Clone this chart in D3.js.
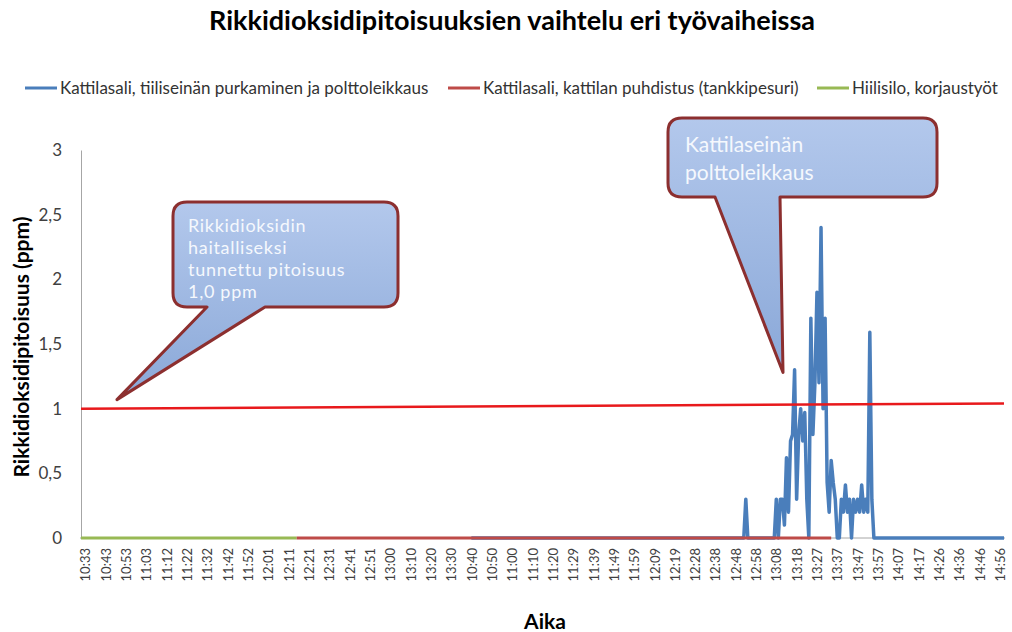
<!DOCTYPE html>
<html>
<head>
<meta charset="utf-8">
<script src="https://cdn.jsdelivr.net/npm/d3@7/dist/d3.min.js"></script>
<style>
  html, body { margin: 0; padding: 0; background: #fff; }
  svg { display: block; font-family: Lato, "Open Sans", sans-serif; }
</style>
</head>
<body>
<svg id="chart" width="1012" height="632"></svg>
<script>
// ---------- data ----------
const title = "Rikkidioksidipitoisuuksien vaihtelu eri työvaiheissa";
const yTitle = "Rikkidioksidipitoisuus (ppm)";
const xTitle = "Aika";

const seriesNames = [
  "Kattilasali, tiiliseinän purkaminen ja polttoleikkaus",
  "Kattilasali, kattilan puhdistus (tankkipesuri)",
  "Hiilisilo, korjaustyöt"
];
const seriesColors = ["#4a7ebb", "#be4b48", "#98b954"];

// category labels (shown every 10th sample)
const xTickLabels = [
  "10:33","10:43","10:53","11:03","11:12","11:22","11:32","11:42","11:52","12:01",
  "12:11","12:21","12:31","12:41","12:51","13:00","13:10","13:20","13:30","10:40",
  "10:50","11:00","11:10","11:20","11:29","11:39","11:49","11:59","12:09","12:19",
  "12:28","12:38","12:48","12:58","13:08","13:18","13:27","13:37","13:47","13:57",
  "14:07","14:17","14:26","14:36","14:46","14:56"
];
const sampleCount = 455;      // samples 0..454
const labelOffset = 2;        // first labelled sample
const labelStep = 10;         // label every 10th sample

const yTicks = [0, 0.5, 1, 1.5, 2, 2.5, 3];

// blue: Kattilasali, tiiliseinän purkaminen ja polttoleikkaus
const blueSample = [192, 326, 327, 328, 340, 341, 342, 343, 344, 345, 346, 347, 348, 349, 350,
  351, 352, 353, 354, 355, 356, 357, 358, 359, 360, 361, 362, 363, 364, 365, 366, 367, 368,
  369, 370, 371, 372, 373, 374, 375, 376, 377, 378, 379, 380, 381, 382, 383, 384, 385, 386,
  387, 388, 389, 390, 454];
const blueValue = [0, 0, 0.3, 0, 0, 0, 0.3, 0, 0.3, 0.3, 0.1, 0.62, 0.2, 0.75, 0.8,
  1.3, 0.3, 0.8, 1.0, 0.75, 0.97, 0.3, 0, 1.7, 0.8, 1.2, 1.9, 1.2, 2.4, 1.0, 1.7, 0.43, 0.2,
  0.6, 0.43, 0.3, 0, 0, 0.3, 0.2, 0.41, 0.2, 0.3, 0, 0.3, 0.2, 0.3, 0.2, 0.41, 0.2, 0.3,
  0.2, 1.59, 0.3, 0, 0];

// red: Kattilasali, kattilan puhdistus (tankkipesuri)
const redSample = [106, 369];
const redValue = [0, 0];

// green: Hiilisilo, korjaustyöt
const greenSample = [0, 106];
const greenValue = [0, 0];

// threshold line (1,0 ppm), drawn across the chart
const thresholdSample = [0, 454];
const thresholdValue = [1.0, 1.04];

// callouts
const callout1Lines = ["Rikkidioksidin", "haitalliseksi", "tunnettu pitoisuus", "1,0 ppm"];
const callout1Tip = [17.7, 1.07];
const callout2Lines = ["Kattilaseinän", "polttoleikkaus"];
const callout2Tip = [345.3, 1.28];

// ---------- layout ----------
const svg = d3.select("#chart");
const plot = { left: 81, right: 1004, top: 150, bottom: 538 };

const x = d3.scaleLinear().domain([0, sampleCount - 1]).range([plot.left, plot.right]);
const y = d3.scaleLinear().domain([0, 3]).range([plot.bottom, plot.top]);

const defs = svg.append("defs");
const grad = defs.append("linearGradient").attr("id", "calloutFill")
  .attr("x1", 0).attr("y1", 0).attr("x2", 0).attr("y2", 1);
grad.append("stop").attr("offset", "0%").attr("stop-color", "#b3c8ec");
grad.append("stop").attr("offset", "100%").attr("stop-color", "#8aa8d8");

// title
svg.append("text").attr("x", 512).attr("y", 30).attr("text-anchor", "middle")
  .attr("font-size", 27).attr("font-weight", "bold").attr("fill", "#000").text(title);

// legend
const legendX = [25, 448, 817];
seriesNames.forEach((n, i) => {
  const g = svg.append("g").attr("transform", `translate(${legendX[i]},88)`);
  g.append("line").attr("x1", 0).attr("x2", 32).attr("y1", 0).attr("y2", 0)
    .attr("stroke", seriesColors[i]).attr("stroke-width", 3);
  g.append("text").attr("x", 35).attr("y", 6).attr("font-size", 17).attr("fill", "#333").text(n);
});

// axes
const tickPositions = xTickLabels.map((d, i) => labelOffset + i * labelStep);
const xAxis = d3.axisBottom(x).tickValues(tickPositions)
  .tickFormat((d, i) => xTickLabels[i]).tickSize(0).tickPadding(0);
const gx = svg.append("g").attr("transform", `translate(0,${plot.bottom})`).call(xAxis);
gx.select(".domain").attr("stroke", "#a6a6a6").attr("d", `M${plot.left - 1},0H${plot.right + 1}`);
gx.selectAll(".tick text")
  .attr("transform", "rotate(-90)")
  .attr("text-anchor", "end")
  .attr("x", -10).attr("y", 0).attr("dy", "0.36em")
  .attr("font-size", 13).attr("font-family", "Lato, sans-serif").attr("fill", "#404040");

const yAxis = d3.axisLeft(y).tickValues(yTicks)
  .tickFormat(d => String(d).replace(".", ",")).tickSize(0).tickPadding(19);
const gy = svg.append("g").attr("transform", `translate(${plot.left},0)`).call(yAxis);
gy.select(".domain").attr("stroke", "#a6a6a6");
gy.selectAll(".tick text").attr("font-size", 17).attr("font-family", "Lato, sans-serif").attr("fill", "#404040");

// axis titles
svg.append("text").attr("transform", `translate(29,347) rotate(-90)`).attr("text-anchor", "middle")
  .attr("font-size", 21).attr("font-weight", "bold").attr("fill", "#000").text(yTitle);
svg.append("text").attr("x", 545).attr("y", 629).attr("text-anchor", "middle")
  .attr("font-size", 21).attr("font-weight", "bold").attr("fill", "#000").text(xTitle);

// series
const line = d3.line().x(d => x(d[0])).y(d => y(d[1]));
const seriesData = [
  d3.zip(blueSample, blueValue),
  d3.zip(redSample, redValue),
  d3.zip(greenSample, greenValue)
];
seriesData.forEach((data, i) => {
  svg.append("path").datum(data).attr("d", line).attr("fill", "none")
    .attr("stroke", seriesColors[i]).attr("stroke-width", i === 0 ? 3.5 : 3)
    .attr("stroke-linejoin", "round");
});

// threshold
svg.append("path").datum(d3.zip(thresholdSample, thresholdValue)).attr("d", line)
  .attr("fill", "none").attr("stroke", "#e8191c").attr("stroke-width", 2.5);

// callouts
function callout(box, tailA, tailB, tip, lines, textX, firstBase, lineStep, fontSize, spacing) {
  const [x0, y0, x1, y1] = box, r = 14;
  const tx = x(tip[0]), ty = y(tip[1]);
  const p = `M${x0 + r},${y0}H${x1 - r}Q${x1},${y0} ${x1},${y0 + r}V${y1 - r}Q${x1},${y1} ${x1 - r},${y1}` +
    `H${tailB}L${tx},${ty}L${tailA},${y1}H${x0 + r}Q${x0},${y1} ${x0},${y1 - r}V${y0 + r}Q${x0},${y0} ${x0 + r},${y0}Z`;
  svg.append("path").attr("d", p).attr("fill", "url(#calloutFill)")
    .attr("stroke", "#8c2f2f").attr("stroke-width", 3).attr("stroke-linejoin", "round");
  lines.forEach((s, i) => {
    svg.append("text").attr("x", textX).attr("y", firstBase + i * lineStep)
      .attr("font-size", fontSize).attr("letter-spacing", spacing)
      .attr("fill", "#f5f8fd").text(s);
  });
}
callout([173, 202, 398, 307], 207, 265, callout1Tip, callout1Lines, 188, 232, 22, 18, 0.7);
callout([668, 118, 937, 197], 715, 780, callout2Tip, callout2Lines, 685, 152, 28, 21, 0);
</script>
</body>
</html>
